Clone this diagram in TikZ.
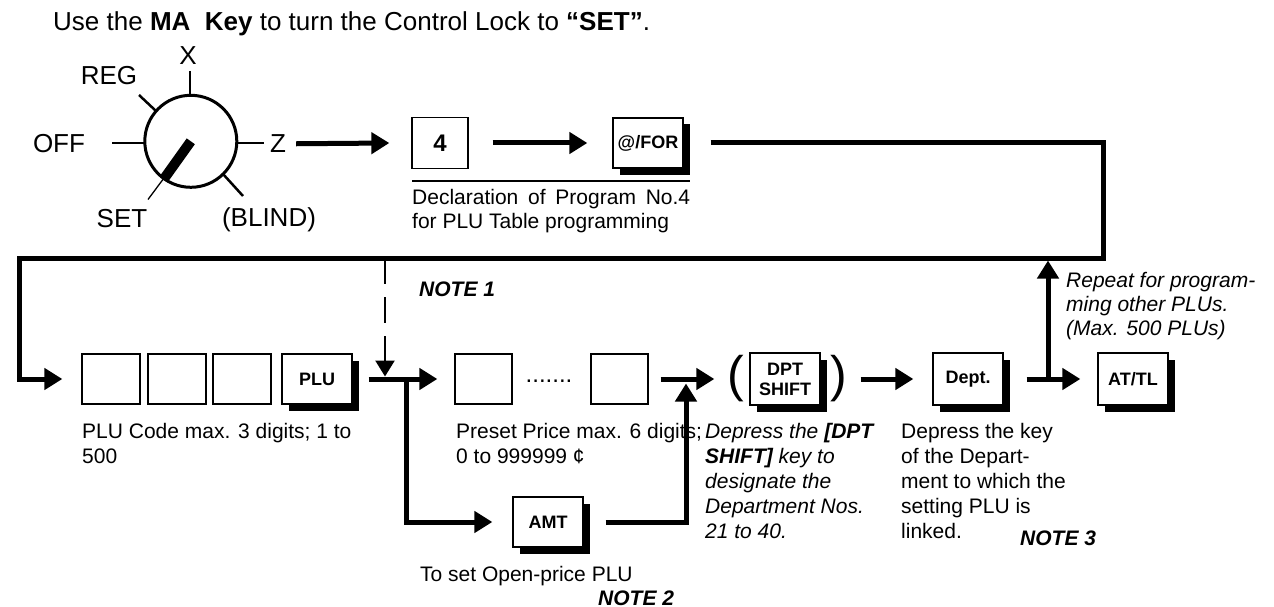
\documentclass[tikz,border=0pt]{standalone}
\usepackage{fontspec}
\setmainfont{Liberation Sans}
\usetikzlibrary{arrows.meta,shadows}

\newcommand\bodyfont{\fontsize{21}{25}\selectfont}
\newcommand\labelfont{\fontsize{26}{31}\selectfont}
\newcommand\keyfont{\fontsize{18}{20}\selectfont\bfseries}

\begin{document}
\begin{tikzpicture}[x=1pt,y=-1pt,
  >={Triangle[length=18pt,width=21pt]},
  flow/.style={line width=5pt},
  hint/.style={line width=2.5pt, dash pattern=on 26pt off 13pt, -{Triangle[length=16pt,width=19pt]}},
  tick/.style={line width=2.5pt},
  plainbox/.style={draw, line width=1.3pt, fill=white, minimum width=58pt, minimum height=50pt, inner sep=0pt},
  keybox/.style={plainbox, minimum width=70pt, font=\keyfont,
    general shadow={fill=black, shadow xshift=6.5pt, shadow yshift=-6.5pt}},
  dial label/.style={font=\labelfont, inner sep=0pt, anchor=base},
  note/.style={font=\bodyfont\bfseries\itshape, inner sep=0pt, anchor=base west},
  desc/.style={font=\bodyfont, inner sep=0pt, anchor=north west, align=left},
  paren/.style={font=\fontsize{50}{50}\selectfont, inner sep=0pt, anchor=base},
]
\fill[white] (0,0) rectangle (1274,607);
\useasboundingbox (0,0) rectangle (1274,607);

% heading
\node[font=\labelfont, inner sep=0pt, anchor=base west] (title) at (53,31)
  {Use the \textbf{MA\ \ Key} to turn the Control Lock to \textbf{“SET”}.};

% control lock dial
\node[draw, circle, line width=3pt, minimum size=92pt, inner sep=0pt] (dial) at (190.8,141.3) {};
\node[dial label] (lX) at (188,64.5) {X};
\node[dial label] (lREG) at (109,85) {REG};
\node[dial label] (lOFF) at (59,152.7) {OFF};
\node[dial label] (lZ) at (278,152.7) {Z};
\node[dial label] (lSET) at (122,227) {SET};
\node[dial label] (lBLIND) at (269,226.5) {(BLIND)};
\draw[tick] (190,71) -- (190,95.5);
\draw[tick] (139,95) -- (156,111);
\draw[tick] (112,143) -- (145,143);
\draw[tick] (236.5,143) -- (264,143);
\draw[tick] (223,174) -- (243,196);
\draw[line width=1.3pt] (148,199.5) -- (164,178);
\draw[line width=10pt] (163.5,179.5) -- (dial.center);

% program declaration
\node[plainbox, minimum width=56pt, minimum height=51pt, font=\fontsize{24}{24}\selectfont\bfseries] (k4) at (440,143) {4};
\node[keybox] (kfor) at (648,143) {@/FOR};
\draw[line width=1.2pt] (412,181) -- (690,181);
\node[desc, font=\fontsize{21}{24}\selectfont] (decl) at (412,189)
  {\makebox[278pt][s]{Declaration of Program No.4}\\for PLU Table programming};

% PLU code keys
\node[plainbox] (c1) at (111,379) {};
\node[plainbox] (c2) at (177,379) {};
\node[plainbox] (c3) at (242,379) {};
\node[keybox] (kplu) at (317,379) {PLU};

% preset price keys
\node[plainbox, minimum width=57pt] (p1) at (483.5,379) {};
\node[font=\fontsize{24}{24}\selectfont, inner sep=0pt, anchor=base] (pdots) at (549,382) {.......};
\node[plainbox, minimum width=57pt] (p2) at (619.5,379) {};
\node[keybox] (kamt) at (548,522) {AMT};

% department keys
\node[paren] (lpar) at (736,391.5) {(};
\node[keybox, align=center, minimum height=52pt] (kdpt) at (785,379) {DPT\\SHIFT};
\node[paren] (rpar) at (839,391.5) {)};
\node[keybox, minimum height=52pt] (kdept) at (968,379) {Dept.};
\node[keybox, minimum height=52pt] (katl) at (1133,379) {AT/TL};

% flow lines
\draw[flow,->] ([xshift=10pt]lZ.east) -- ([xshift=-22pt]k4.west);
\draw[flow,->] ([xshift=24pt]k4.east) -- ([xshift=-25pt]kfor.west);

\coordinate (loopNE) at (1103,143);
\coordinate (loopSE) at (1103,258);
\coordinate (loopSW) at (19,258);
\draw[flow,->] ([xshift=27pt]kfor.east) -- (loopNE) -- (loopSE) -- (loopSW) |- ([xshift=-19pt]c1.west);

\coordinate (noteTop) at (385,258);
\coordinate (noteEnd) at (385,376.5);
\draw[hint] (noteTop) -- (noteEnd);

\draw[flow,->] ([xshift=16pt]kplu.east) -- ([xshift=-17pt]p1.west);
\coordinate (split) at (406,379);
\draw[flow,->] (split) |- ([xshift=-20pt]kamt.west);
\coordinate (merge) at (686,383.5);
\draw[flow,->] ([xshift=22pt]kamt.east) -| (merge);
\draw[flow,->] ([xshift=12pt]p2.east) -- ([xshift=-35pt]kdpt.west);
\draw[flow,->] ([xshift=40pt]kdpt.east) -- ([xshift=-19pt]kdept.west);
\draw[flow,->] ([xshift=23pt]kdept.east) -- ([xshift=-17pt]katl.west);
\coordinate (branch) at (1048,379);
\coordinate (repeatEnd) at (1048,260.5);
\draw[flow,->] (branch) -- (repeatEnd);

% descriptions
\node[desc] (plutext) at (82,423) {PLU Code max. 3 digits; 1 to\\500};
\node[desc] (presettext) at (456,423) {Preset Price max. 6 digits;\\0 to 999999 ¢};
\node[desc, font=\bodyfont\itshape] (dpttext) at (705,423)
  {Depress the \textbf{[DPT}\\\textbf{SHIFT]} key to\\designate the\\Department Nos.\\21 to 40.};
\node[desc] (depttext) at (901,423)
  {Depress the key\\of the Depart-\\ment to which the\\setting PLU is\\linked.};
\node[desc, font=\fontsize{21}{24}\selectfont\itshape] (repeattext) at (1066,272)
  {Repeat for program-\\ming other PLUs.\\(Max. 500 PLUs)};
\node[font=\bodyfont, inner sep=0pt, anchor=base west] (opentext) at (420,581) {To set Open-price PLU};
\node[note] (note1) at (419,296) {NOTE 1};
\node[note] (note2) at (598,605) {NOTE 2};
\node[note] (note3) at (1020,545) {NOTE 3};
\end{tikzpicture}
\end{document}
